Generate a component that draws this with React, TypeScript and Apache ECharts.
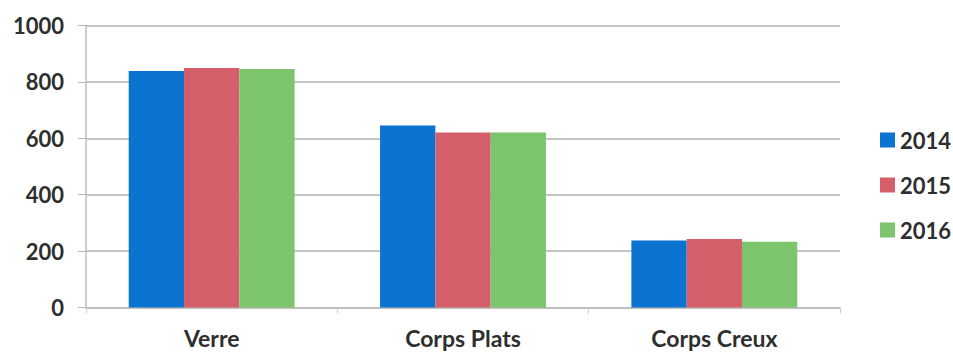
import React, { useEffect, useRef } from "react";
import * as echarts from "echarts";

const categories = ["Verre", "Corps Plats", "Corps Creux"];
const years = ["2014", "2015", "2016"];
const values2014 = [839, 645, 238];
const values2015 = [849, 621, 243];
const values2016 = [846, 621, 233];
const colors = ["#0B74D0", "#D55E6B", "#7DC56C"];

const FONT = "Lato, 'Open Sans', sans-serif";
const TEXT = "#2e2e2e";

export default function App() {
  const ref = useRef<HTMLDivElement>(null);

  useEffect(() => {
    if (!ref.current) return;
    const chart = echarts.init(ref.current, undefined, { renderer: "svg" });
    const seriesData = [values2014, values2015, values2016];
    chart.setOption({
      animation: false,
      backgroundColor: "#ffffff",
      textStyle: { fontFamily: FONT },
      grid: { left: 86, right: 113, top: 25.5, bottom: 44.5, containLabel: false },
      legend: {
        orient: "vertical",
        left: 875,
        top: 124,
        itemWidth: 15,
        itemHeight: 15,
        itemGap: 23,
        icon: "rect",
        data: years,
        textStyle: { fontFamily: FONT, fontSize: 22, fontWeight: "bold", color: TEXT },
      },
      xAxis: {
        type: "category",
        data: categories,
        axisLine: { show: true, lineStyle: { color: "#bdbdbd", width: 1.5 } },
        axisTick: { show: true, length: 6, lineStyle: { color: "#cccccc" } },
        axisLabel: { margin: 19, fontFamily: FONT, fontSize: 23, fontWeight: "bold", color: TEXT },
        splitLine: { show: false },
      },
      yAxis: {
        type: "value",
        min: 0,
        max: 1000,
        interval: 200,
        axisLine: { show: true, lineStyle: { color: "#bdbdbd", width: 1.5 } },
        axisTick: { show: true, length: 8, lineStyle: { color: "#b5b5b5" } },
        axisLabel: {
          margin: 22,
          fontFamily: FONT,
          fontSize: 22,
          fontWeight: "bold",
          color: TEXT,
          formatter: (v: number) => String(v),
        },
        splitLine: { show: true, lineStyle: { color: "#b3b3b3", width: 1.5 } },
      },
      series: years.map((y, i) => ({
        name: y,
        type: "bar",
        data: seriesData[i],
        barGap: "0%",
        barCategoryGap: "34%",
        itemStyle: { color: colors[i] },
      })),
    });
    return () => chart.dispose();
  }, []);

  return (
    <div
      ref={ref}
      style={{ position: "fixed", left: 0, top: 0, width: 953, height: 352 }}
    />
  );
}
